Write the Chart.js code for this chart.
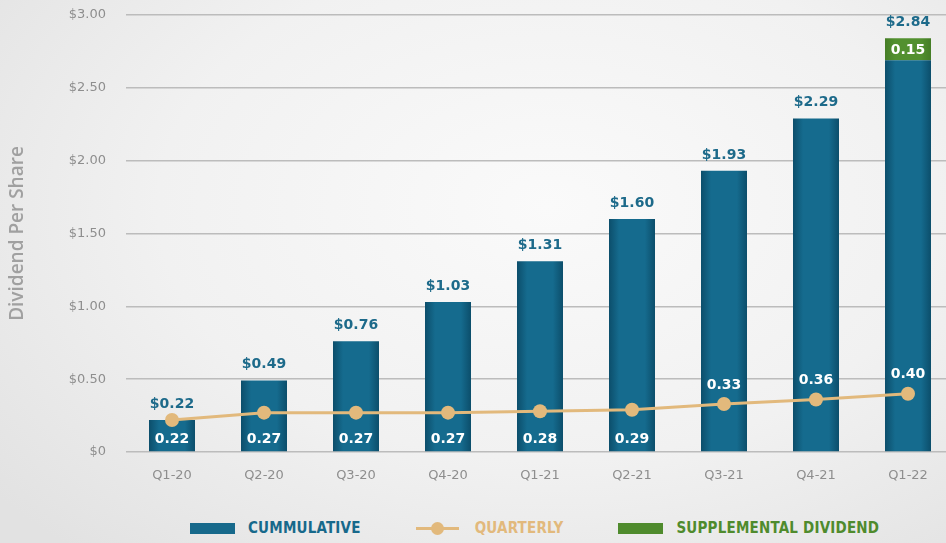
<!DOCTYPE html>
<html>
<head>
<meta charset="utf-8">
<title>Dividend Per Share</title>
<script src="https://cdn.jsdelivr.net/npm/chart.js@4/dist/chart.umd.min.js"></script>
<style>
  html, body {
    margin: 0;
    padding: 0;
    width: 946px;
    height: 543px;
    overflow: hidden;
    background: radial-gradient(ellipse 75% 85% at 58% 38%, #fafafa 0%, #f1f1f1 55%, #e2e2e2 100%);
  }
  #wrap {
    position: relative;
    width: 946px;
    height: 543px;
    overflow: hidden;
  }
  #myChart {
    position: absolute;
    left: 0;
    top: 0;
  }
  #legend {
    position: absolute;
    left: 190px;
    top: 519px;
    display: flex;
    align-items: center;
    font-family: "Liberation Sans Narrow", "DejaVu Sans Condensed", sans-serif;
    font-weight: bold;
    font-size: 15px;
    letter-spacing: 0.2px;
  }
  .legend-item {
    display: flex;
    align-items: center;
    margin-right: 55px;
    height: 18px;
  }
  .swatch-box {
    width: 45px;
    height: 11px;
    margin-right: 13px;
  }
  .swatch-line {
    position: relative;
    width: 43px;
    height: 3px;
    margin-right: 16px;
  }
  .swatch-line span {
    position: absolute;
    left: 15px;
    top: -5px;
    width: 13px;
    height: 13px;
    border-radius: 50%;
  }
</style>
</head>
<body>
<div id="wrap">
  <canvas id="myChart" width="960" height="490"></canvas>
  <div id="legend"></div>
</div>
<script>
//
// Variables
//

var quarters = ['Q1-20', 'Q2-20', 'Q3-20', 'Q4-20', 'Q1-21', 'Q2-21', 'Q3-21', 'Q4-21', 'Q1-22'];

// Running total of dividends paid, per share
var cumulative = [0.22, 0.49, 0.76, 1.03, 1.31, 1.60, 1.93, 2.29, 2.84];

// Regular dividend paid each quarter
var quarterly = [0.22, 0.27, 0.27, 0.27, 0.28, 0.29, 0.33, 0.36, 0.40];

// One-off supplemental dividend, part of the cumulative total
var supplemental = [0, 0, 0, 0, 0, 0, 0, 0, 0.15];

var yTicks = [0, 0.5, 1, 1.5, 2, 2.5, 3];

// Quarterly labels move from the bar foot to above the point from this quarter on
var firstLabelAbovePoint = 6;

var colors = {
    blue: '#17698b',
    blueDark: '#0c4e6b',
    blueLight: '#156b8e',
    tan: '#e2b97c',
    green: '#4f8b2d',
    greenDark: '#457d26',
    greenLight: '#52902f',
    valueText: '#1d6a8a',
    axisText: '#8e8e8e',
    titleText: '#a0a0a0',
    grid: '#bcbcbc'
};

// Regular part of the stacked bar (total without the supplemental part)
var regularPart = cumulative.map(function (total, i) {
    return supplemental[i] ? +(total - supplemental[i]).toFixed(2) : total;
});

var supplementalPart = supplemental.map(function (value) {
    return value ? value : null;
});


//
// Methods
//

/**
 * Format a value the way the axis and labels show money
 */
function money(value) {
    return value === 0 ? '$0' : '$' + value.toFixed(2);
}


/**
 * Horizontal shading for a bar so it looks slightly rounded
 */
function barShade(context, edge, middle) {
    var chart = context.chart;
    var xScale = chart.scales.x;
    if (!xScale || context.dataIndex === undefined) return middle;

    var center = xScale.getPixelForValue(context.dataIndex);
    var half = xScale.width / quarters.length / 4;
    if (!isFinite(center) || !isFinite(half) || half <= 0) return middle;

    var gradient = chart.ctx.createLinearGradient(center - half, 0, center + half, 0);
    gradient.addColorStop(0, edge);
    gradient.addColorStop(0.22, middle);
    gradient.addColorStop(0.78, middle);
    gradient.addColorStop(1, edge);
    return gradient;
}


/**
 * Draw the value labels on and above the bars and line points
 */
var valueLabels = {
    id: 'valueLabels',
    afterDatasetsDraw: function (chart) {
        var ctx = chart.ctx;
        var regularMeta = chart.getDatasetMeta(0);
        var supplementalMeta = chart.getDatasetMeta(1);
        var lineMeta = chart.getDatasetMeta(2);

        ctx.save();
        ctx.textAlign = 'center';
        ctx.textBaseline = 'middle';
        ctx.font = 'bold 14px "DejaVu Sans"';

        quarters.forEach(function (quarter, i) {
            var bar = regularMeta.data[i];
            var topBar = supplemental[i] ? supplementalMeta.data[i] : bar;

            // cumulative total above the stack
            ctx.fillStyle = colors.valueText;
            ctx.fillText(money(cumulative[i]), topBar.x, topBar.y - 16);

            // quarterly value, at the bar foot or above its point
            ctx.fillStyle = '#ffffff';
            if (i < firstLabelAbovePoint) {
                ctx.fillText(quarterly[i].toFixed(2), bar.x, bar.base - 12);
            } else {
                var point = lineMeta.data[i];
                ctx.fillText(quarterly[i].toFixed(2), point.x, point.y - 19);
            }

            // supplemental value inside the green part
            if (supplemental[i]) {
                var green = supplementalMeta.data[i];
                ctx.fillText(supplemental[i].toFixed(2), green.x, (green.y + green.base) / 2 + 1);
            }
        });

        ctx.restore();
    }
};


/**
 * Build the legend under the chart from the dataset settings
 */
function renderLegend(chart) {
    var legend = document.querySelector('#legend');
    var order = [0, 2, 1];
    var html = '';

    order.forEach(function (index) {
        var dataset = chart.data.datasets[index];
        var swatch;
        if (dataset.type === 'line') {
            swatch = '<div class="swatch-line" style="background:' + dataset.borderColor + '">' +
                '<span style="background:' + dataset.pointBackgroundColor + '"></span></div>';
        } else {
            swatch = '<div class="swatch-box" style="background:' + dataset.legendColor + '"></div>';
        }
        html += '<div class="legend-item">' + swatch +
            '<span style="color:' + dataset.legendColor + '">' + dataset.label + '</span></div>';
    });

    legend.innerHTML = html;
}


/**
 * Create the chart
 */
function renderChart() {
    Chart.defaults.font.family = '"DejaVu Sans", sans-serif';

    var ctx = document.querySelector('#myChart').getContext('2d');
    var chart = new Chart(ctx, {
        data: {
            labels: quarters,
            datasets: [{
                type: 'bar',
                label: 'CUMMULATIVE',
                data: regularPart,
                stack: 'dividend',
                order: 1,
                legendColor: colors.blue,
                backgroundColor: function (context) {
                    return barShade(context, colors.blueDark, colors.blueLight);
                },
                barPercentage: 0.5,
                categoryPercentage: 1
            }, {
                type: 'bar',
                label: 'SUPPLEMENTAL DIVIDEND',
                data: supplementalPart,
                stack: 'dividend',
                order: 1,
                legendColor: colors.green,
                backgroundColor: function (context) {
                    return barShade(context, colors.greenDark, colors.greenLight);
                },
                barPercentage: 0.5,
                categoryPercentage: 1
            }, {
                type: 'line',
                label: 'QUARTERLY',
                data: quarterly,
                stack: 'quarterly',
                order: 0,
                legendColor: colors.tan,
                borderColor: colors.tan,
                borderWidth: 3,
                pointRadius: 7,
                pointBackgroundColor: colors.tan,
                pointBorderWidth: 0,
                tension: 0
            }]
        },
        options: {
            responsive: false,
            animation: false,
            devicePixelRatio: 1,
            layout: {
                autoPadding: false,
                padding: { top: 15, right: 6, left: 0, bottom: 0 }
            },
            plugins: {
                legend: { display: false },
                tooltip: { enabled: false }
            },
            scales: {
                x: {
                    stacked: true,
                    grid: { display: false },
                    border: { display: false },
                    ticks: {
                        color: colors.axisText,
                        font: { size: 13 },
                        padding: 8
                    },
                    afterFit: function (scale) {
                        scale.height = 38;
                    }
                },
                y: {
                    stacked: true,
                    min: 0,
                    max: 3,
                    afterBuildTicks: function (scale) {
                        scale.ticks = yTicks.map(function (value) {
                            return { value: value };
                        });
                    },
                    grid: {
                        color: colors.grid,
                        lineWidth: 1.5,
                        drawTicks: false
                    },
                    border: { display: false },
                    ticks: {
                        color: colors.axisText,
                        font: { size: 13 },
                        padding: 20,
                        callback: function (value) {
                            return money(value);
                        }
                    },
                    title: {
                        display: true,
                        text: 'Dividend Per Share',
                        color: colors.titleText,
                        font: { family: '"Open Sans", sans-serif', size: 19, weight: '600' },
                        padding: { top: 6, bottom: 0 }
                    },
                    afterFit: function (scale) {
                        scale.width = 126;
                        // keep the top gridline close to the canvas edge
                        scale.paddingTop = 0;
                        scale.paddingBottom = 0;
                    }
                }
            }
        },
        plugins: [valueLabels]
    });

    renderLegend(chart);
}


//
// Event listeners
//

window.addEventListener('load', function () {
    renderChart();
}, false);
</script>
</body>
</html>
